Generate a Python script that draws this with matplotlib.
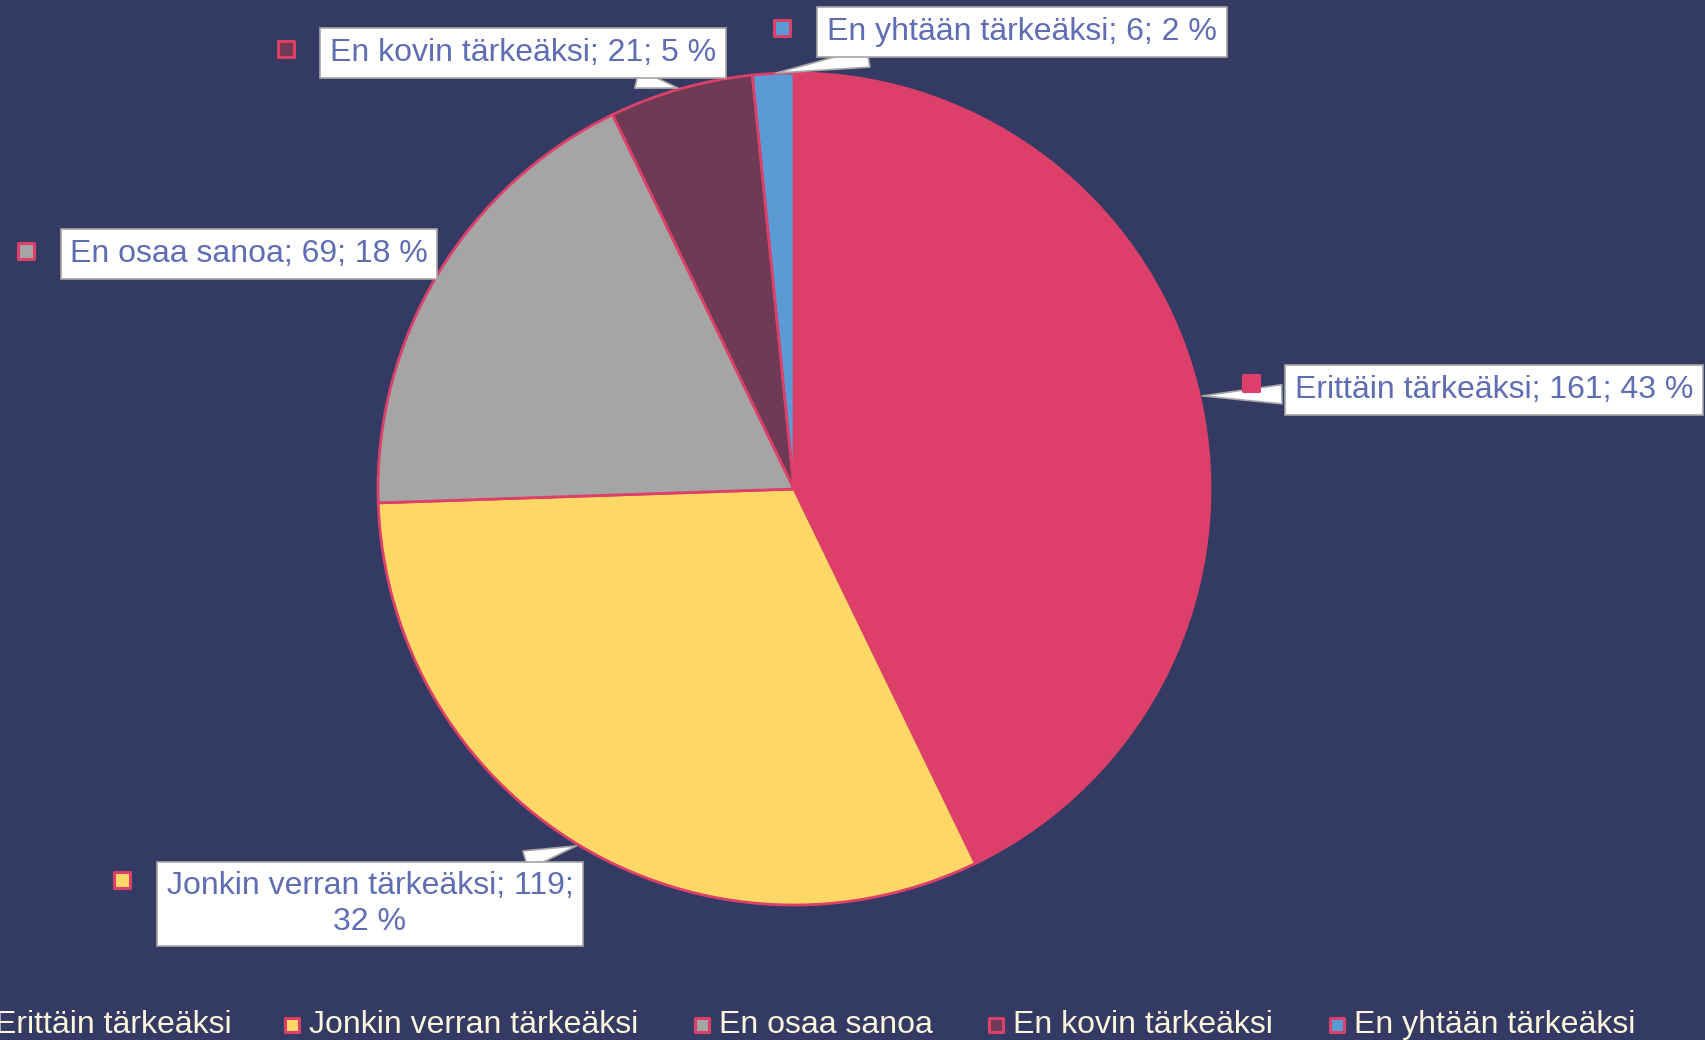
import numpy as np
import matplotlib
matplotlib.use("Agg")
from matplotlib import pyplot as plt

# data
categories = ["Erittäin tärkeäksi", "Jonkin verran tärkeäksi", "En osaa sanoa",
              "En kovin tärkeäksi", "En yhtään tärkeäksi"]
counts = [161, 119, 69, 21, 6]
percents = [43, 32, 18, 5, 2]
colors = ["#DC4068", "#FDD867", "#A5A5A5", "#6F3A55", "#5B9BD5"]

bg = "#333B65"
edge = "#DC4068"
label_col = "#5F6DB3"
legend_col = "#FDF5DC"

# layout (pixel coords, y up)
W, H = 1706, 1040
center = (794, 551)
radius = 416
label_xy = [(1494, 650), (370, 136), (249, 786), (523, 987), (1022, 1008)]
label_text = ["%s; %d; %d %%" % (c, n, p) for c, n, p in zip(categories, counts, percents)]
label_text[1] = label_text[1].replace("119; ", "119;\n")
marker_xy = [(1251, 657), (122, 160), (26, 789), (286, 991), (782, 1012)]
has_tail = [True, True, False, True, True]
legend_x = [-22, 292, 702, 996, 1337]
legend_y = 15

fig = plt.figure(figsize=(W / 100, H / 100), dpi=100, facecolor=bg)
ax = fig.add_axes([0, 0, 1, 1])
ax.set_facecolor(bg)

wedges, _ = ax.pie(counts, colors=colors, startangle=90, counterclock=False,
                   center=center, radius=radius,
                   wedgeprops=dict(edgecolor=edge, linewidth=2))
ax.set_xlim(0, W)
ax.set_ylim(0, H)
ax.set_aspect("equal")
ax.axis("off")

# data labels with callouts
total = sum(counts)
cum = np.cumsum([0] + counts)
for i, w in enumerate(wedges):
    mid = (cum[i] + counts[i] / 2) / total
    ang = np.deg2rad(90 - mid * 360)
    tip = (center[0] + radius * np.cos(ang), center[1] + radius * np.sin(ang))
    arrow = None
    if has_tail[i]:
        arrow = dict(arrowstyle="wedge,tail_width=0.6", fc="white", ec="#A6A6A6", lw=1.2)
    ax.annotate(label_text[i], xy=tip, xytext=label_xy[i], textcoords="data",
                ha="center", va="center", fontsize=23, color=label_col,
                family=["Liberation Sans", "DejaVu Sans"], linespacing=1.25,
                bbox=dict(boxstyle="square,pad=0.3", fc="white", ec="#A6A6A6", lw=1.2),
                arrowprops=arrow, zorder=5)
    ax.scatter([marker_xy[i][0]], [marker_xy[i][1]], marker="s", s=117,
               c=[colors[i] if i else edge], edgecolors=edge, linewidths=2.2, zorder=6)

# legend along the bottom
for i, cat in enumerate(categories):
    ax.scatter([legend_x[i]], [legend_y], marker="s", s=95, c=[colors[i]],
               edgecolors=edge, linewidths=2.2, zorder=6, clip_on=False)
    ax.text(legend_x[i] + 17, legend_y, cat, ha="left", va="center", fontsize=23,
            color=legend_col, family=["Liberation Sans Narrow", "Liberation Sans", "DejaVu Sans"])

fig.savefig("out.png", dpi=100, facecolor=bg)
